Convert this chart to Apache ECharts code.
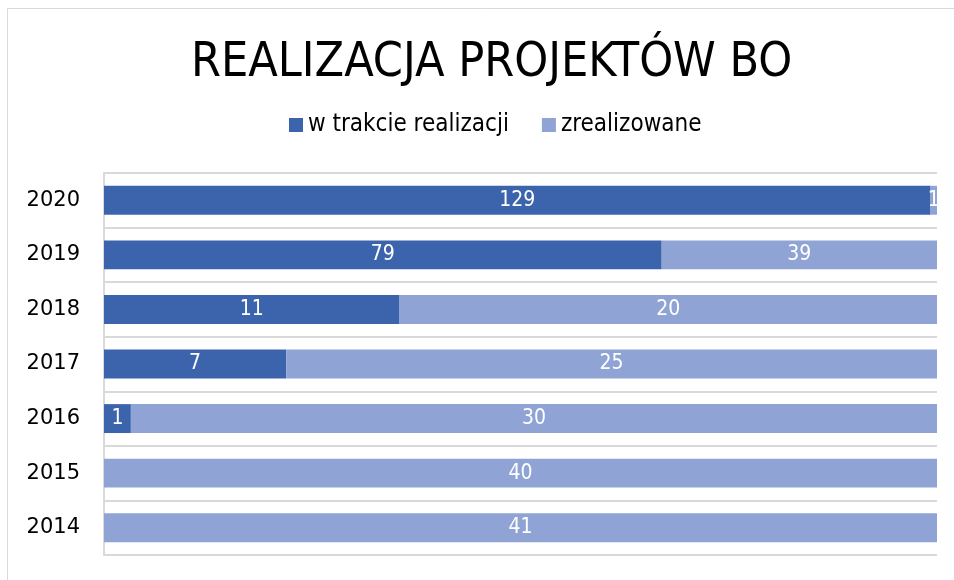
<!DOCTYPE html>
<html>
<head>
<meta charset="utf-8">
<script src="https://cdn.jsdelivr.net/npm/echarts@6/dist/echarts.min.js"></script>
<style>
  html, body { margin: 0; padding: 0; background: #fff; }
  #chart { width: 954px; height: 580px; }
</style>
</head>
<body>
<div id="chart"></div>
<script>
// dane
const years = ['2014', '2015', '2016', '2017', '2018', '2019', '2020'];
const wTrakcie = [0, 0, 1, 7, 11, 79, 129];
const zrealizowane = [41, 40, 30, 25, 20, 39, 1];

const FONT = "'DejaVu Sans Condensed', 'Roboto', sans-serif";

// procent z sumy w danym roku (wykres 100%)
const totals = years.map((y, i) => wTrakcie[i] + zrealizowane[i]);
const pct = arr => arr.map((v, i) => (totals[i] ? v / totals[i] * 100 : 0));

const chart = echarts.init(document.getElementById('chart'));

const labelStyle = {
  show: true,
  position: 'inside',
  color: '#fff',
  fontSize: 21,
  fontFamily: FONT,
  formatter: p => (p.data.raw ? String(p.data.raw) : '')
};

const option = {
  backgroundColor: '#fff',
  color: ['#3C64AD', '#8FA3D4'],
  title: {
    text: 'REALIZACJA PROJEKTÓW BO',
    left: 186,
    top: 35,
    textStyle: {
      color: '#000',
      fontSize: 48,
      fontWeight: 'normal',
      fontFamily: FONT
    }
  },
  legend: {
    top: 108,
    left: 284,
    itemWidth: 14,
    itemHeight: 14,
    itemGap: 33,
    icon: 'rect',
    textStyle: { fontSize: 24, color: '#000', fontFamily: FONT },
    data: ['w trakcie realizacji', 'zrealizowane']
  },
  grid: { left: 104, right: 17, top: 173, bottom: 25 },
  xAxis: {
    type: 'value',
    min: 0,
    max: 100,
    show: false
  },
  yAxis: {
    type: 'category',
    data: years,
    axisTick: { show: false },
    axisLine: { show: true, lineStyle: { color: '#d9d9d9', width: 2 } },
    axisLabel: {
      color: '#000', fontSize: 21, fontWeight: 500, margin: 24,
      fontFamily: "'DejaVu Sans', sans-serif"
    },
    splitLine: { show: true, lineStyle: { color: '#d9d9d9', width: 2 } }
  },
  series: [
    {
      name: 'w trakcie realizacji',
      type: 'bar',
      stack: 'all',
      barWidth: '53%',
      label: labelStyle,
      data: pct(wTrakcie).map((v, i) => ({ value: v, raw: wTrakcie[i] }))
    },
    {
      name: 'zrealizowane',
      type: 'bar',
      stack: 'all',
      barWidth: '53%',
      label: labelStyle,
      data: pct(zrealizowane).map((v, i) => ({ value: v, raw: zrealizowane[i] }))
    }
  ],
  graphic: [{
    type: 'rect',
    shape: { x: 7.5, y: 8.5, width: 980, height: 600 },
    style: { fill: 'none', stroke: '#d9d9d9', lineWidth: 1 },
    silent: true
  }]
};

chart.setOption(option);
</script>
</body>
</html>
